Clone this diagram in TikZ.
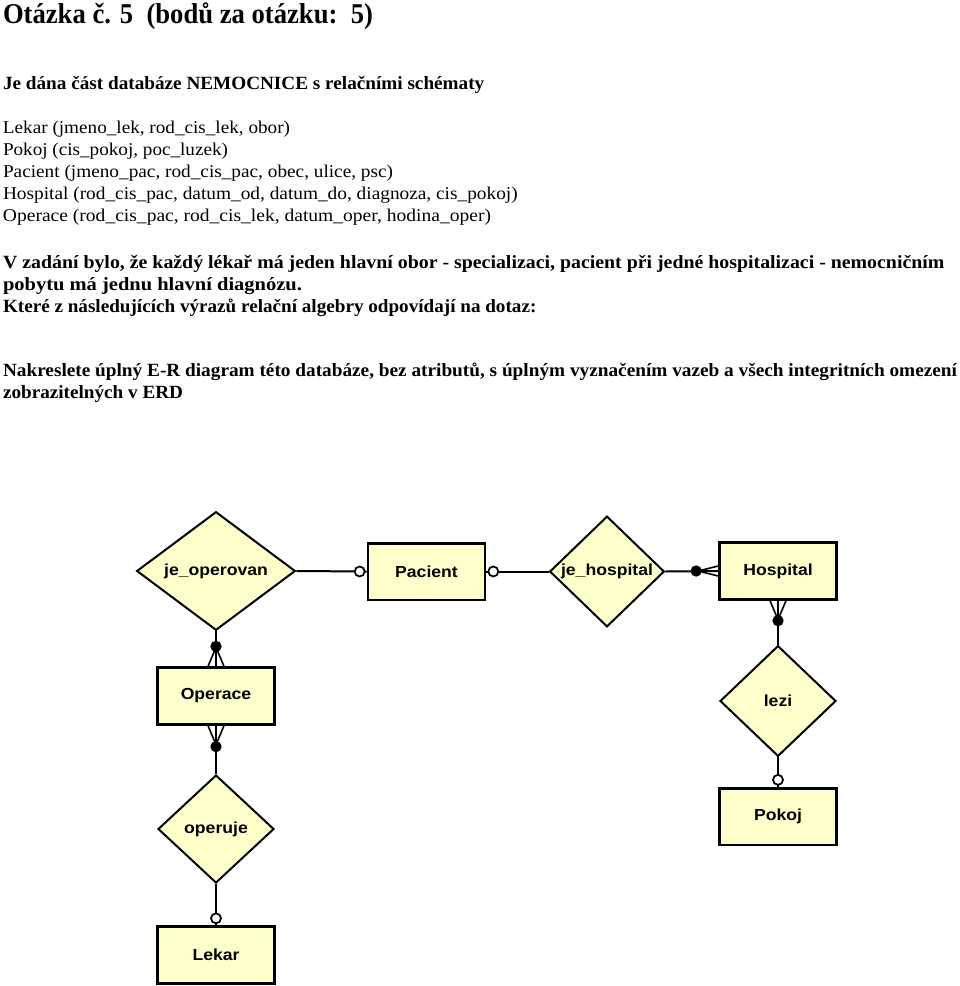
\documentclass[tikz,border=0pt]{standalone}
\usepackage{fontspec}
\setmainfont{Liberation Serif}
\newfontfamily\erfont[FakeStretch=1.1]{Liberation Sans}
\usetikzlibrary{shapes.geometric,calc}
\definecolor{erfill}{RGB}{255,255,204}
\newcommand{\fitw}[2]{\resizebox{#1}{\height}{#2}}
\tikzset{
  txt/.style={anchor=base west, inner sep=0pt, outer sep=0pt},
  ent/.style={draw=black, line width=2pt, fill=erfill, minimum width=87.75pt,
    minimum height=42.5pt, inner sep=0pt, font=\erfont\bfseries\fontsize{12}{14}\selectfont},
  rel/.style={diamond, draw=black, line width=1.5pt, fill=erfill, inner sep=0pt,
    minimum width=87pt, minimum height=83pt, font=\erfont\bfseries\fontsize{12}{14}\selectfont},
  conn/.style={line width=1.5pt, draw=black},
  ocirc/.style={circle, draw=black, fill=white, line width=1.3pt, minimum size=7.5pt, inner sep=0pt},
  fdot/.style={circle, fill=black, minimum size=8.5pt, inner sep=0pt},
  prong/.style={line width=1.2pt, draw=black}
}
\begin{document}
\begin{tikzpicture}[x=0.75pt,y=-0.75pt]
\useasboundingbox (0,0) rectangle (960,986);
% texts
\node[txt] (title) at (3,23) {\fitw{277.5pt}{\fontsize{21.5}{24}\selectfont\bfseries Otázka č. 5\ \ (bodů za otázku:\ \ 5)}};
\node[txt] (intro) at (3,89) {\fitw{361pt}{\fontsize{14}{16}\selectfont\bfseries Je dána část databáze NEMOCNICE s relačními schématy}};
\node[txt] (s1) at (3,133) {\fitw{215.25pt}{\fontsize{13.5}{15}\selectfont Lekar (jmeno\_lek, rod\_cis\_lek, obor)}};
\node[txt] (s2) at (3,155) {\fitw{168.75pt}{\fontsize{13.5}{15}\selectfont Pokoj (cis\_pokoj, poc\_luzek)}};
\node[txt] (s3) at (3,177) {\fitw{292.5pt}{\fontsize{13.5}{15}\selectfont Pacient (jmeno\_pac, rod\_cis\_pac, obec, ulice, psc)}};
\node[txt] (s4) at (3,199) {\fitw{386pt}{\fontsize{13.5}{15}\selectfont Hospital (rod\_cis\_pac, datum\_od, datum\_do, diagnoza, cis\_pokoj)}};
\node[txt] (s5) at (3,221) {\fitw{366pt}{\fontsize{13.5}{15}\selectfont Operace (rod\_cis\_pac, rod\_cis\_lek, datum\_oper, hodina\_oper)}};
\node[txt] (p1) at (3,268) {\fitw{706pt}{\fontsize{14}{16}\selectfont\bfseries V zadání bylo, že každý lékař má jeden hlavní obor - specializaci, pacient při jedné hospitalizaci - nemocničním}};
\node[txt] (p2) at (3,290) {\fitw{224.25pt}{\fontsize{14}{16}\selectfont\bfseries pobytu má jednu hlavní diagnózu.}};
\node[txt] (p3) at (3,312) {\fitw{400pt}{\fontsize{14}{16}\selectfont\bfseries Které z následujících výrazů relační algebry odpovídají na dotaz:}};
\node[txt] (p4) at (3,376) {\fitw{715.5pt}{\fontsize{14}{16}\selectfont\bfseries Nakreslete úplný E-R diagram této databáze, bez atributů, s úplným vyznačením vazeb a všech integritních omezení}};
\node[txt] (p5) at (3,398) {\fitw{135pt}{\fontsize{14}{16}\selectfont\bfseries zobrazitelných v ERD}};
% diagram nodes
\node[rel, minimum width=119pt, minimum height=82pt] (jeop) at (216,571) {je\_operovan};
\node[ent] (pac) at (426.5,571.5) {Pacient};
\node[rel, minimum width=86pt] (jehosp) at (607,571.5) {je\_hospital};
\node[ent] (hosp) at (778,571) {Hospital};
\node[rel] (lezi) at (778,701) {lezi};
\node[ent] (pokoj) at (778,816.5) {Pokoj};
\node[ent] (oper) at (216,696) {Operace};
\node[rel, minimum height=81pt] (operuje) at (216,829) {operuje};
\node[ent] (lekar) at (216,955) {Lekar};
% connectors
\draw[conn] (jeop.east) -- (pac.west);
\node[ocirc] at ($(pac.west)+(-7,0)$) {};
\draw[conn] (pac.east) -- (jehosp.west);
\node[ocirc] at ($(pac.east)+(7,0)$) {};
\draw[conn] (jehosp.east) -- (hosp.west);
\draw[prong] ($(hosp.west)+(-20,0)$) -- ($(hosp.west)+(0,-5)$);
\draw[prong] ($(hosp.west)+(-20,0)$) -- ($(hosp.west)+(0,5)$);
\node[fdot] at ($(hosp.west)+(-22,0)$) {};
\draw[conn] (hosp.south) -- (lezi.north);
\draw[prong] ($(hosp.south)+(0,19)$) -- ($(hosp.south)+(-8,0)$);
\draw[prong] ($(hosp.south)+(0,19)$) -- ($(hosp.south)+(8,0)$);
\node[fdot] at ($(hosp.south)+(0,20)$) {};
\draw[conn] (lezi.south) -- (pokoj.north);
\node[ocirc] at ($(pokoj.north)+(0,-7)$) {};
\draw[conn] (jeop.south) -- (oper.north);
\draw[prong] ($(oper.north)+(0,-19)$) -- ($(oper.north)+(-8,0)$);
\draw[prong] ($(oper.north)+(0,-19)$) -- ($(oper.north)+(8,0)$);
\node[fdot] at ($(oper.north)+(0,-20)$) {};
\draw[conn] (oper.south) -- (operuje.north);
\draw[prong] ($(oper.south)+(0,19)$) -- ($(oper.south)+(-8,0)$);
\draw[prong] ($(oper.south)+(0,19)$) -- ($(oper.south)+(8,0)$);
\node[fdot] at ($(oper.south)+(0,21)$) {};
\draw[conn] (operuje.south) -- (lekar.north);
\node[ocirc] at ($(lekar.north)+(0,-7)$) {};
\end{tikzpicture}
\end{document}
